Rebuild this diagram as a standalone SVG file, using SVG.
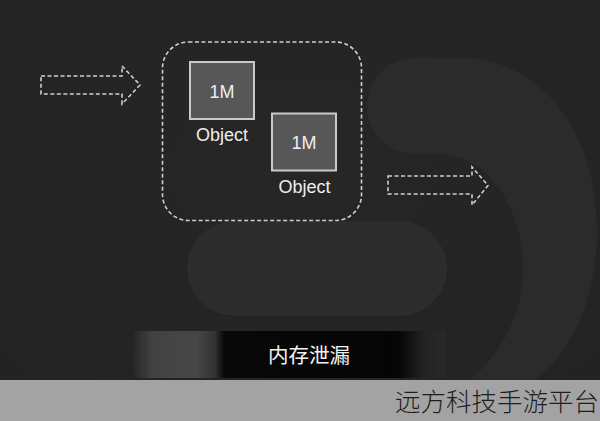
<svg xmlns="http://www.w3.org/2000/svg" width="600" height="421" viewBox="0 0 600 421">
<defs>
<style>
.dash{fill:none;stroke:#cfcfcf;stroke-width:1.6;stroke-dasharray:4 2.5}
.box{fill:#575757;stroke:#c9c9c9;stroke-width:2}
.lbl{font-family:"Liberation Sans",Arial,sans-serif;font-size:18px;fill:#eeeeee;text-anchor:middle}
</style>
<linearGradient id="barg" x1="134" y1="0" x2="445" y2="0" gradientUnits="userSpaceOnUse">
<stop offset="0" stop-color="#282828"/>
<stop offset="0.06" stop-color="#424242"/>
<stop offset="0.2" stop-color="#474747"/>
<stop offset="0.26" stop-color="#333333"/>
<stop offset="0.29" stop-color="#080808"/>
<stop offset="0.85" stop-color="#050505"/>
<stop offset="0.93" stop-color="#222222"/>
<stop offset="1" stop-color="#292929"/>
</linearGradient>
<radialGradient id="bgg" cx="0.5" cy="0.4" r="0.7">
<stop offset="0" stop-color="#262626"/>
<stop offset="1" stop-color="#232323"/>
</radialGradient>
</defs>
<rect width="600" height="421" fill="url(#bgg)"/>
<path d="M415 58 L460 58 C540 58 597 130 597 230 C597 300 572 350 535 380 L470 380 C505 350 523 310 523 270 C523 200 482 154 440 154 L415 154 A48 48 0 0 1 415 58 Z" fill="#2b2b2b"/>
<rect x="188" y="222" width="258" height="93" rx="46" fill="#2c2c2c" stroke="#303030" stroke-width="1"/>
<g id="bar">
<rect x="134" y="331" width="311" height="47" fill="url(#barg)"/>
<text x="309" y="363" font-family="'Noto Sans CJK SC',sans-serif" font-size="20.5" fill="#f2f2f2" text-anchor="middle">内存泄漏</text>
</g>
<g id="footer">
<rect x="0" y="380" width="600" height="41" fill="#a3a3a3"/>
<text x="599" y="411" font-family="'Noto Sans CJK SC',sans-serif" font-size="25.5" font-weight="300" fill="#1e1e1e" text-anchor="end">远方科技手游平台</text>
</g>
<g id="container">
<rect class="dash" x="162.5" y="42" width="199" height="178.5" rx="26"/>
</g>
<g id="obj1">
<rect class="box" x="190" y="62" width="64" height="57"/>
<text class="lbl" x="222" y="98">1M</text>
<text class="lbl" x="222" y="141">Object</text>
</g>
<g id="obj2">
<rect class="box" x="272" y="113.5" width="64" height="57"/>
<text class="lbl" x="304" y="149">1M</text>
<text class="lbl" x="304.5" y="192.5">Object</text>
</g>
<g id="connectors">
<path class="dash" d="M41 76 L122 76 L122 66 L140 85 L122 104 L122 94 L41 94 Z"/>
<path class="dash" d="M388 176 L472 176 L472 167 L488 185.5 L472 205 L472 194 L388 194 Z"/>
</g>
</svg>
